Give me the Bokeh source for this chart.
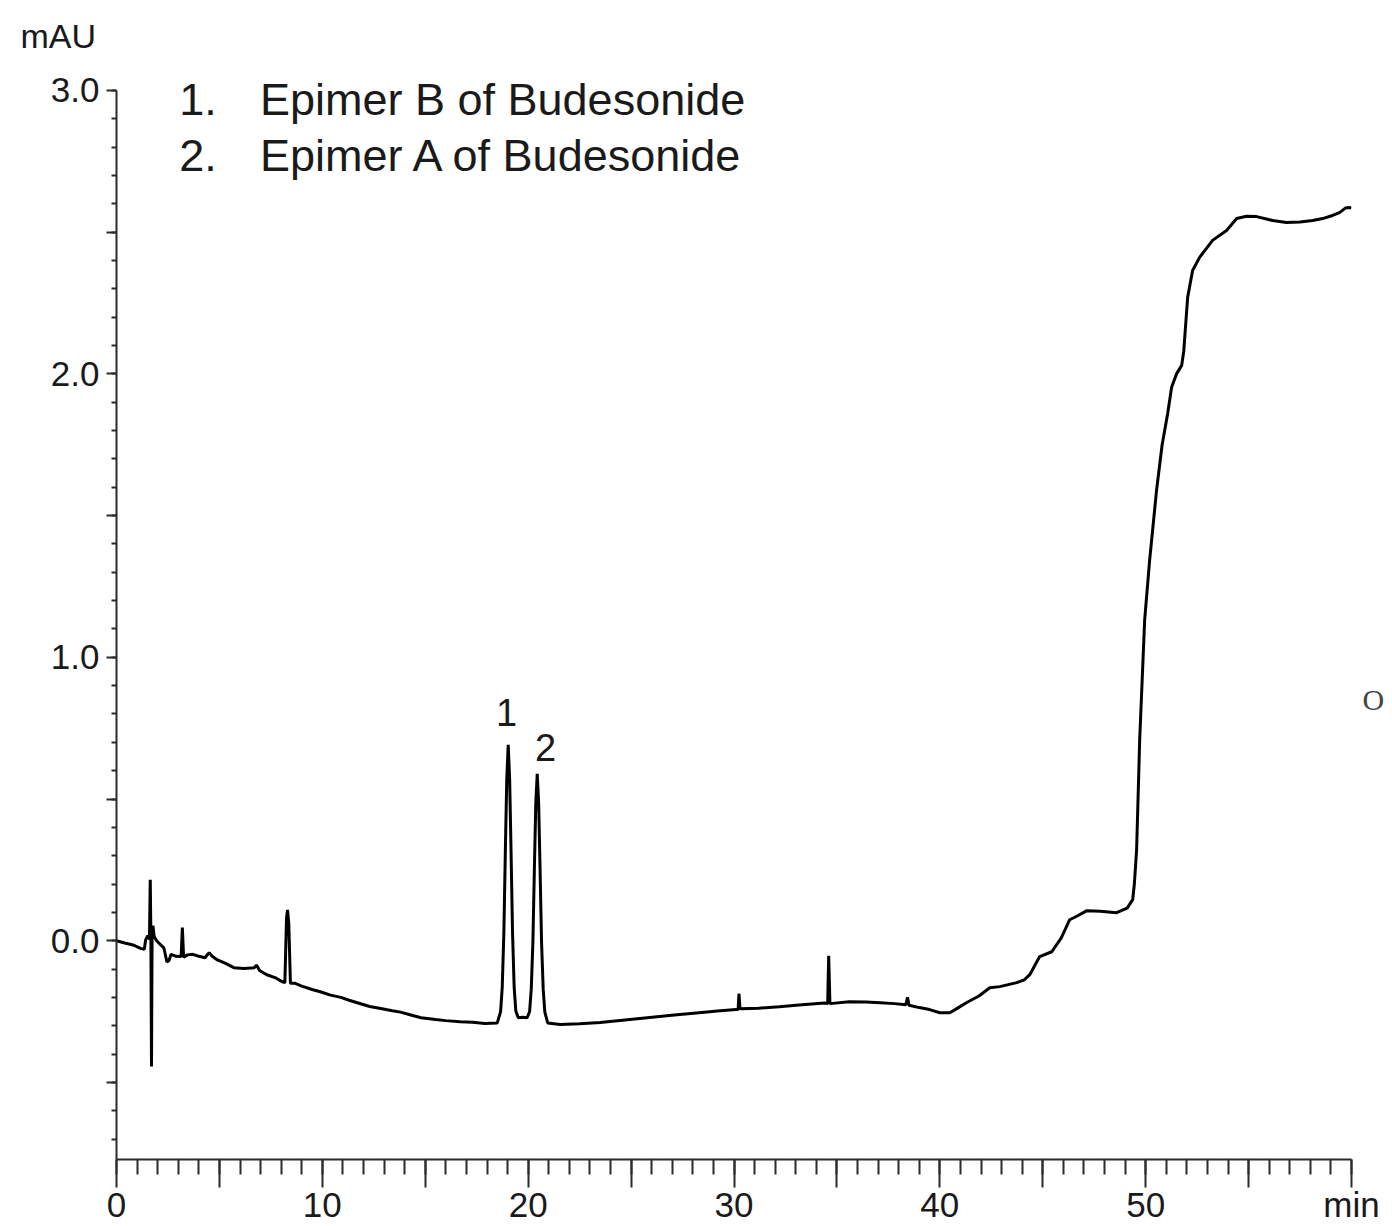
from bokeh.plotting import figure
from bokeh.models import Range1d, FixedTicker, Label, LinearAxis
from bokeh.embed import file_html
from bokeh.resources import INLINE

# ---- chromatogram trace (retention time in min, absorbance in mAU) ----
time_min = [
    0.00, 0.40, 0.80, 1.20, 1.35, 1.42, 1.52, 1.60, 1.64, 1.67, 1.70, 1.73, 1.77, 1.83, 1.95,
    2.15, 2.30, 2.45, 2.55, 2.65, 2.90, 3.14, 3.20, 3.26, 3.45, 3.70, 4.00, 4.30, 4.50, 4.65,
    4.90, 5.30, 5.70, 6.20, 6.70, 6.80, 6.95, 7.30, 7.70, 8.05, 8.18, 8.26, 8.31, 8.37, 8.45,
    8.65, 9.00, 9.50, 9.90, 10.40, 10.90, 11.30, 11.70, 12.30, 12.90, 13.40, 13.80, 14.30, 14.80,
    15.50, 16.00, 16.70, 17.30, 17.90,
    18.50, 18.66, 18.74, 18.82, 18.89, 18.96, 19.03, 19.10, 19.17, 19.24, 19.32, 19.40, 19.52, 19.73,
    19.95, 20.07, 20.15, 20.23, 20.30, 20.37, 20.44, 20.51, 20.58, 20.65, 20.73, 20.81, 20.95,
    21.55, 22.50, 23.50, 24.70, 25.90, 27.10, 28.30, 29.20, 30.10, 30.20, 30.24, 30.29, 31.20,
    32.20, 33.30, 34.40, 34.55, 34.60, 34.66, 35.60, 36.40, 37.10, 37.80, 38.35, 38.43, 38.50,
    39.00, 39.50, 40.00, 40.49, 40.90, 41.31, 41.90, 42.43, 42.91, 43.74, 44.10, 44.37, 44.85,
    45.44, 45.90, 46.31, 46.70, 47.14, 47.80, 48.59, 49.10, 49.37, 49.45, 49.56, 49.71, 49.95,
    50.19, 50.53, 50.80, 51.07, 51.26, 51.50, 51.75, 51.85, 52.04, 52.28, 52.62, 53.25, 53.93,
    54.42, 54.90, 55.39, 56.17, 56.84, 57.50, 58.11, 58.60, 59.08, 59.42, 59.70, 59.90, 60.00,
]
absorbance_mau = [
    0.000, -0.008, -0.015, -0.028, -0.030, 0.004, 0.018, 0.005, 0.215, 0.020, -0.444, 0.030, 0.053, 0.015, 0.000,
    -0.015, -0.025, -0.075, -0.070, -0.048, -0.055, -0.056, 0.046, -0.058, -0.050, -0.048, -0.055, -0.060, -0.042, -0.055,
    -0.068, -0.080, -0.095, -0.098, -0.095, -0.086, -0.105, -0.120, -0.130, -0.145, -0.148, 0.080, 0.109, 0.060, -0.150,
    -0.150, -0.160, -0.172, -0.180, -0.192, -0.200, -0.210, -0.219, -0.232, -0.240, -0.247, -0.252, -0.262, -0.272,
    -0.278, -0.282, -0.286, -0.288, -0.292,
    -0.290, -0.250, -0.165, 0.030, 0.310, 0.570, 0.691, 0.570, 0.310, 0.030, -0.165, -0.248, -0.272, -0.270,
    -0.272, -0.250, -0.171, -0.004, 0.247, 0.484, 0.589, 0.484, 0.247, -0.004, -0.171, -0.252, -0.290,
    -0.296, -0.293, -0.289, -0.280, -0.271, -0.262, -0.254, -0.248, -0.243, -0.243, -0.187, -0.240, -0.238,
    -0.233, -0.226, -0.220, -0.222, -0.053, -0.222, -0.215, -0.216, -0.219, -0.222, -0.226, -0.200, -0.228,
    -0.236, -0.243, -0.254, -0.254, -0.236, -0.218, -0.195, -0.166, -0.162, -0.148, -0.138, -0.120, -0.056,
    -0.039, 0.010, 0.074, 0.088, 0.106, 0.104, 0.099, 0.115, 0.145, 0.200, 0.320, 0.710, 1.130,
    1.340, 1.590, 1.750, 1.860, 1.953, 2.000, 2.030, 2.080, 2.270, 2.365, 2.411, 2.471, 2.506,
    2.548, 2.556, 2.555, 2.541, 2.534, 2.536, 2.541, 2.548, 2.559, 2.569, 2.585, 2.587, 2.585,
]

# ---- peak annotations ----
peak_numbers = ["1", "2"]
peak_label_x = [18.95, 20.85]
peak_label_y = [0.804, 0.680]

# ---- legend text ----
legend_numbers = ["1.", "2."]
legend_names = ["Epimer B of Budesonide", "Epimer A of Budesonide"]
legend_y = [2.968, 2.770]

# ---- axes ticks ----
x_major_ticks = [0, 5, 10, 15, 20, 25, 30, 35, 40, 45, 50, 55, 60]
x_minor_ticks = list(range(0, 61))
x_tick_labels = {0: "0", 5: "", 10: "10", 15: "", 20: "20", 25: "", 30: "30", 35: "",
                 40: "40", 45: "", 50: "50", 55: "", 60: "min"}
y_major_ticks = [-0.5, 0.0, 0.5, 1.0, 1.5, 2.0, 2.5, 3.0]
y_minor_ticks = [-0.7, -0.6, -0.5, -0.4, -0.3, -0.2, -0.1, 0.0, 0.1, 0.2, 0.3, 0.4, 0.5, 0.6, 0.7,
                 0.8, 0.9, 1.0, 1.1, 1.2, 1.3, 1.4, 1.5, 1.6, 1.7, 1.8, 1.9, 2.0, 2.1, 2.2, 2.3,
                 2.4, 2.5, 2.6, 2.7, 2.8, 2.9, 3.0]
y_tick_labels = {-0.5: "", 0.0: "0.0", 0.5: "", 1.0: "1.0", 1.5: "", 2.0: "2.0", 2.5: "", 3.0: "3.0"}
y_axis_top = 3.0
y_unit = "mAU"
stray_mark = "O"
stray_mark_y = 0.85

FONT = "Liberation Sans"
INK = "#1a1a1a"
AXIS = "#2b2b2b"

p = figure(width=1392, height=1226, output_backend="svg", toolbar_location=None,
           x_range=Range1d(0, 60), y_range=Range1d(-0.772, 3.0987))
p.min_border_left = 116
p.min_border_right = 41
p.min_border_top = 62
p.min_border_bottom = 66
p.outline_line_color = None
p.xgrid.visible = False
p.ygrid.visible = False
p.background_fill_color = "white"
p.border_fill_color = "white"

# "mAU" unit text in the top-left corner, via the title
p.title.text = y_unit
p.title.align = "left"
p.title.offset = -96
p.title.standoff = 15
p.title.text_font = FONT
p.title.text_font_size = "34px"
p.title.text_font_style = "normal"
p.title.text_color = INK

p.xaxis.ticker = FixedTicker(ticks=x_major_ticks, minor_ticks=x_minor_ticks)
p.xaxis.major_label_overrides = x_tick_labels
p.yaxis.ticker = FixedTicker(ticks=y_major_ticks, minor_ticks=y_minor_ticks)
p.yaxis.major_label_overrides = y_tick_labels
p.yaxis.bounds = (-0.772, y_axis_top)

for ax in (p.xaxis, p.yaxis):
    ax.axis_line_color = AXIS
    ax.axis_line_width = 2
    ax.major_tick_line_color = AXIS
    ax.major_tick_line_width = 2
    ax.minor_tick_line_color = AXIS
    ax.minor_tick_line_width = 2
    ax.major_tick_in = 0
    ax.minor_tick_in = 0
    ax.major_label_text_font = FONT
    ax.major_label_text_font_size = "35px"
    ax.major_label_text_color = INK

p.xaxis.major_tick_out = 28
p.xaxis.minor_tick_out = 15
p.xaxis.major_label_standoff = -3
p.yaxis.major_tick_out = 10
p.yaxis.minor_tick_out = 5
p.yaxis.major_label_standoff = 7

# stray character at the right edge of the scan, shown as a right-side axis label
right_ax = LinearAxis(ticker=FixedTicker(ticks=[stray_mark_y], minor_ticks=[]),
                      major_label_overrides={stray_mark_y: stray_mark})
right_ax.axis_line_color = None
right_ax.major_tick_line_color = None
right_ax.minor_tick_line_color = None
right_ax.major_tick_out = 0
right_ax.major_tick_in = 0
right_ax.major_label_standoff = 11
right_ax.major_label_text_font = "Liberation Serif"
right_ax.major_label_text_font_size = "30px"
right_ax.major_label_text_color = "#444444"
p.add_layout(right_ax, "right")

p.line(time_min, absorbance_mau, line_color="black", line_width=3)

for num, lx, ly in zip(peak_numbers, peak_label_x, peak_label_y):
    p.add_layout(Label(x=lx, y=ly, text=num, text_font=FONT, text_font_size="38px",
                       text_color=INK, text_align="center", text_baseline="middle"))

for num, name, ly in zip(legend_numbers, legend_names, legend_y):
    p.add_layout(Label(x=3.05, y=ly, text=num, text_font=FONT, text_font_size="45px",
                       text_color=INK, text_align="left", text_baseline="middle"))
    p.add_layout(Label(x=6.97, y=ly, text=name, text_font=FONT, text_font_size="45px",
                       text_color=INK, text_align="left", text_baseline="middle"))

open("out.html", "w").write(file_html(p, INLINE))
